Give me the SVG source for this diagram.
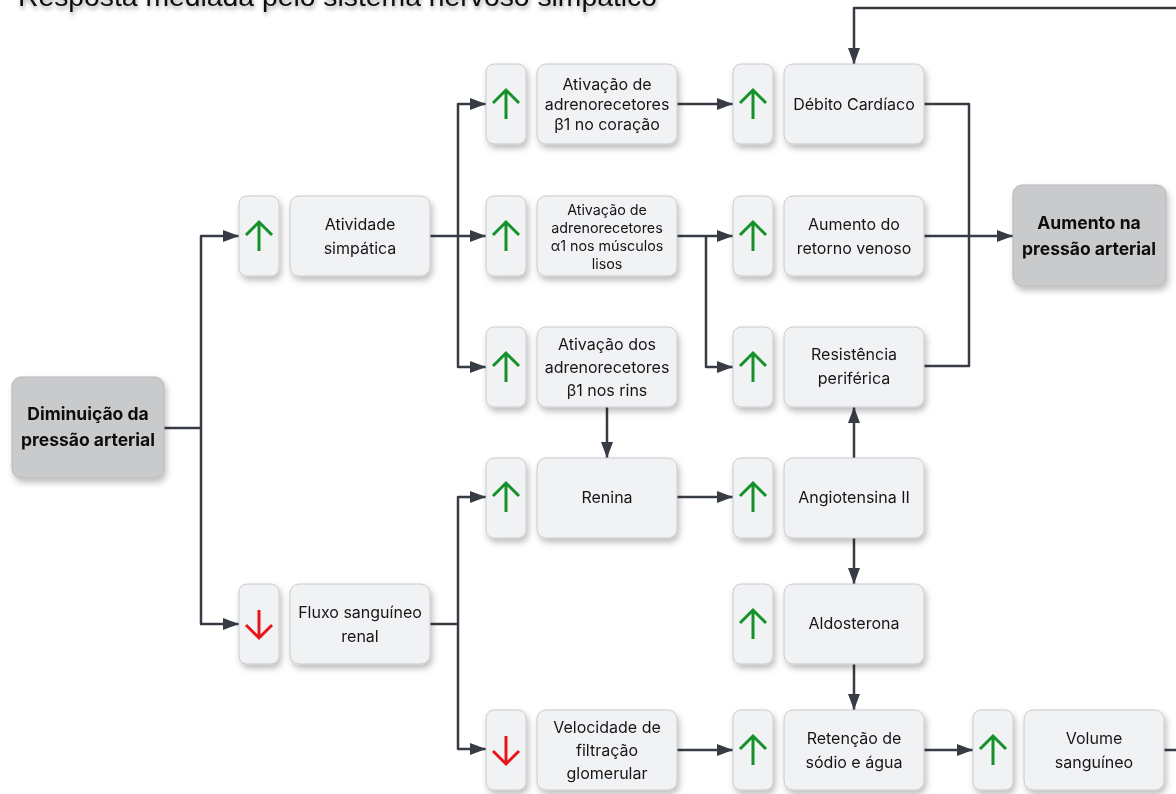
<svg xmlns="http://www.w3.org/2000/svg" width="1176" height="794" viewBox="0 0 1176 794">
  <defs>
    <style>
      .box { fill: #f1f2f4; stroke: #c9cacd; stroke-width: 1; }
      .key { fill: #c9cacc; stroke: #b4b5b8; stroke-width: 1; }
      .lbl { font-family: Inter, "Noto Sans", "Liberation Sans", sans-serif; font-size: 16px; fill: #161618; text-anchor: middle; }
      .sm { font-size: 14.3px; }
      .bold { font-weight: 700; font-size: 17.5px; fill: #0e0e0e; }
      .title { font-family: "Liberation Sans", Arial, sans-serif; font-size: 27px; fill: #111; }
      .wire { fill: none; stroke: #373c44; stroke-width: 2.5; stroke-linejoin: round; }
      .up { fill: none; stroke: #14912a; stroke-width: 3; }
      .down { fill: none; stroke: #e8191c; stroke-width: 3; }
    </style>
    <filter id="shadow" x="-20%" y="-20%" width="150%" height="160%">
      <feDropShadow dx="2" dy="4" stdDeviation="3" flood-color="#000" flood-opacity="0.26"/>
    </filter>
    <filter id="tshadow" x="-5%" y="-50%" width="110%" height="200%">
      <feDropShadow dx="1" dy="3" stdDeviation="2" flood-color="#000" flood-opacity="0.35"/>
    </filter>
    <marker id="arrow" markerUnits="userSpaceOnUse" markerWidth="16" markerHeight="12" refX="16" refY="6" orient="auto">
      <path d="M0,0 L16,6 L0,12 z" fill="#373c44"/>
    </marker>
    <path id="arrowUp" class="up" d="M0,15 V-14 M-13,-1 L0,-14 L13,-1"/>
    <path id="arrowDown" class="down" d="M0,-14 V14 M-13,1 L0,14 L13,1"/>
  </defs>

  <rect width="1176" height="794" fill="#ffffff"/>

  <text class="title" x="18" y="6" textLength="639" lengthAdjust="spacingAndGlyphs" filter="url(#tshadow)">Resposta mediada pelo sistema nervoso simpático</text>

  <!-- connectors -->
  <g id="connectors">
    <path class="wire" d="M164,428 H201"/>
    <path class="wire" d="M201,428 V236 H239" marker-end="url(#arrow)"/>
    <path class="wire" d="M201,428 V624 H239" marker-end="url(#arrow)"/>

    <path class="wire" d="M430,236 H458"/>
    <path class="wire" d="M458,236 V104 H486" marker-end="url(#arrow)"/>
    <path class="wire" d="M458,236 H486" marker-end="url(#arrow)"/>
    <path class="wire" d="M458,236 V367 H486" marker-end="url(#arrow)"/>

    <path class="wire" d="M677,104 H733" marker-end="url(#arrow)"/>
    <path class="wire" d="M677,236 H706"/>
    <path class="wire" d="M706,236 H733" marker-end="url(#arrow)"/>
    <path class="wire" d="M706,236 V367 H733" marker-end="url(#arrow)"/>

    <path class="wire" d="M924,104 H969 V366 H924"/>
    <path class="wire" d="M924,236 H1013" marker-end="url(#arrow)"/>

    <path class="wire" d="M607,407 V458" marker-end="url(#arrow)"/>

    <path class="wire" d="M430,624 H458"/>
    <path class="wire" d="M458,624 V497 H486" marker-end="url(#arrow)"/>
    <path class="wire" d="M458,624 V749 H486" marker-end="url(#arrow)"/>

    <path class="wire" d="M677,497 H733" marker-end="url(#arrow)"/>
    <path class="wire" d="M854,458 V407" marker-end="url(#arrow)"/>
    <path class="wire" d="M854,538 V584" marker-end="url(#arrow)"/>
    <path class="wire" d="M854,664 V710" marker-end="url(#arrow)"/>
    <path class="wire" d="M677,750 H733" marker-end="url(#arrow)"/>
    <path class="wire" d="M924,750 H973" marker-end="url(#arrow)"/>
    <path class="wire" d="M1164,750 H1192 V8 H854 V64" marker-end="url(#arrow)"/>
  </g>

  <!-- start -->
  <g id="diminuicao" filter="url(#shadow)">
    <rect class="key" x="12" y="377" width="152" height="101" rx="9"/>
    <text class="lbl bold" x="88" y="420">Diminuição da</text>
    <text class="lbl bold" x="88" y="446">pressão arterial</text>
  </g>

  <!-- outcome -->
  <g id="aumento-pressao" filter="url(#shadow)">
    <rect class="key" x="1013" y="185" width="153" height="101" rx="9"/>
    <text class="lbl bold" x="1089" y="229">Aumento na</text>
    <text class="lbl bold" x="1089" y="255">pressão arterial</text>
  </g>

  <g id="atividade-simpatica" filter="url(#shadow)">
    <rect class="box" x="239" y="196" width="40" height="80" rx="8"/>
    <use href="#arrowUp" x="259" y="236"/>
    <rect class="box" x="290" y="196" width="140" height="80" rx="9"/>
    <text class="lbl" x="360" y="230">Atividade</text>
    <text class="lbl" x="360" y="254">simpática</text>
  </g>

  <g id="fluxo-renal" filter="url(#shadow)">
    <rect class="box" x="239" y="584" width="40" height="80" rx="8"/>
    <use href="#arrowDown" x="259" y="624"/>
    <rect class="box" x="290" y="584" width="140" height="80" rx="9"/>
    <text class="lbl" x="360" y="618">Fluxo sanguíneo</text>
    <text class="lbl" x="360" y="642">renal</text>
  </g>

  <g id="beta1-coracao" filter="url(#shadow)">
    <rect class="box" x="486" y="64" width="40" height="80" rx="8"/>
    <use href="#arrowUp" x="506" y="104"/>
    <rect class="box" x="537" y="64" width="140" height="80" rx="9"/>
    <text class="lbl" x="607" y="90">Ativação de</text>
    <text class="lbl" x="607" y="110">adrenorecetores</text>
    <text class="lbl" x="607" y="130">β1 no coração</text>
  </g>

  <g id="alfa1-musculos" filter="url(#shadow)">
    <rect class="box" x="486" y="196" width="40" height="80" rx="8"/>
    <use href="#arrowUp" x="506" y="236"/>
    <rect class="box" x="537" y="196" width="140" height="80" rx="9"/>
    <text class="lbl sm" x="607" y="215">Ativação de</text>
    <text class="lbl sm" x="607" y="233">adrenorecetores</text>
    <text class="lbl sm" x="607" y="251">α1 nos músculos</text>
    <text class="lbl sm" x="607" y="269">lisos</text>
  </g>

  <g id="beta1-rins" filter="url(#shadow)">
    <rect class="box" x="486" y="327" width="40" height="80" rx="8"/>
    <use href="#arrowUp" x="506" y="367"/>
    <rect class="box" x="537" y="327" width="140" height="80" rx="9"/>
    <text class="lbl" x="607" y="350">Ativação dos</text>
    <text class="lbl" x="607" y="373">adrenorecetores</text>
    <text class="lbl" x="607" y="396">β1 nos rins</text>
  </g>

  <g id="renina" filter="url(#shadow)">
    <rect class="box" x="486" y="458" width="40" height="80" rx="8"/>
    <use href="#arrowUp" x="506" y="497"/>
    <rect class="box" x="537" y="458" width="140" height="80" rx="9"/>
    <text class="lbl" x="607" y="503">Renina</text>
  </g>

  <g id="filtracao-glomerular" filter="url(#shadow)">
    <rect class="box" x="486" y="710" width="40" height="80" rx="8"/>
    <use href="#arrowDown" x="506" y="750"/>
    <rect class="box" x="537" y="710" width="140" height="80" rx="9"/>
    <text class="lbl" x="607" y="733">Velocidade de</text>
    <text class="lbl" x="607" y="756">filtração</text>
    <text class="lbl" x="607" y="779">glomerular</text>
  </g>

  <g id="debito-cardiaco" filter="url(#shadow)">
    <rect class="box" x="733" y="64" width="40" height="80" rx="8"/>
    <use href="#arrowUp" x="753" y="104"/>
    <rect class="box" x="784" y="64" width="140" height="80" rx="9"/>
    <text class="lbl" x="854" y="110">Débito Cardíaco</text>
  </g>

  <g id="retorno-venoso" filter="url(#shadow)">
    <rect class="box" x="733" y="196" width="40" height="80" rx="8"/>
    <use href="#arrowUp" x="753" y="236"/>
    <rect class="box" x="784" y="196" width="140" height="80" rx="9"/>
    <text class="lbl" x="854" y="230">Aumento do</text>
    <text class="lbl" x="854" y="254">retorno venoso</text>
  </g>

  <g id="resistencia-periferica" filter="url(#shadow)">
    <rect class="box" x="733" y="327" width="40" height="80" rx="8"/>
    <use href="#arrowUp" x="753" y="367"/>
    <rect class="box" x="784" y="327" width="140" height="80" rx="9"/>
    <text class="lbl" x="854" y="360">Resistência</text>
    <text class="lbl" x="854" y="384">periférica</text>
  </g>

  <g id="angiotensina" filter="url(#shadow)">
    <rect class="box" x="733" y="458" width="40" height="80" rx="8"/>
    <use href="#arrowUp" x="753" y="497"/>
    <rect class="box" x="784" y="458" width="140" height="80" rx="9"/>
    <text class="lbl" x="854" y="503">Angiotensina II</text>
  </g>

  <g id="aldosterona" filter="url(#shadow)">
    <rect class="box" x="733" y="584" width="40" height="80" rx="8"/>
    <use href="#arrowUp" x="753" y="624"/>
    <rect class="box" x="784" y="584" width="140" height="80" rx="9"/>
    <text class="lbl" x="854" y="629">Aldosterona</text>
  </g>

  <g id="retencao" filter="url(#shadow)">
    <rect class="box" x="733" y="710" width="40" height="80" rx="8"/>
    <use href="#arrowUp" x="753" y="750"/>
    <rect class="box" x="784" y="710" width="140" height="80" rx="9"/>
    <text class="lbl" x="854" y="744">Retenção de</text>
    <text class="lbl" x="854" y="768">sódio e água</text>
  </g>

  <g id="volume-sanguineo" filter="url(#shadow)">
    <rect class="box" x="973" y="710" width="40" height="80" rx="8"/>
    <use href="#arrowUp" x="993" y="750"/>
    <rect class="box" x="1024" y="710" width="140" height="80" rx="9"/>
    <text class="lbl" x="1094" y="744">Volume</text>
    <text class="lbl" x="1094" y="768">sanguíneo</text>
  </g>
</svg>
